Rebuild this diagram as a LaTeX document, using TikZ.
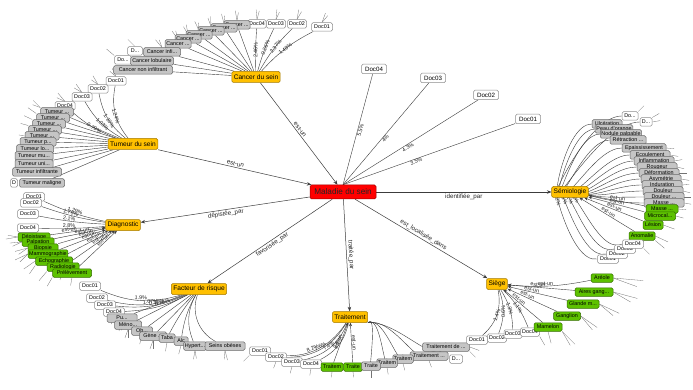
\documentclass[tikz,border=0pt]{standalone}
\usepackage{fontspec}
\setmainfont{Liberation Sans}
\usetikzlibrary{arrows.meta}
\pgfdeclarelayer{bg}
\pgfsetlayers{bg,main}
\newcommand\trc{...}
\definecolor{gold}{HTML}{FFC000}
\definecolor{goldD}{HTML}{A37A00}
\definecolor{redN}{HTML}{FF0000}
\definecolor{redD}{HTML}{9A0000}
\definecolor{grn}{HTML}{5DC100}
\definecolor{grnD}{HTML}{356F00}
\definecolor{gry}{HTML}{C5C5C5}
\definecolor{gryD}{HTML}{6A6A6A}
\definecolor{wD}{HTML}{8C8C8C}
\definecolor{edgeC}{HTML}{3C3C3C}
\tikzset{
  box/.style={rounded corners=1.5pt, inner xsep=1.2pt, inner ysep=0pt, minimum height=8.5pt,
    font=\fontsize{5.4}{6}\selectfont, line width=0.5pt, text=black},
  ynode/.style={box, fill=gold, draw=goldD, minimum height=11pt, font=\fontsize{6.6}{7}\selectfont, inner xsep=2pt},
  rnode/.style={box, fill=redN, draw=redD, minimum height=14pt, minimum width=66pt, font=\fontsize{8.2}{9}\selectfont, text=black!85},
  gnode/.style={box, fill=grn, draw=grnD},
  grnode/.style={box, fill=gry, draw=gryD},
  wnode/.style={box, fill=white, draw=wD},
  mdoc/.style={wnode, minimum width=25pt, minimum height=9.5pt, font=\fontsize{6.2}{7}\selectfont},
  mainedge/.style={draw=edgeC, line width=0.5pt, -{Stealth[length=4.5pt,width=3.5pt]}},
  fan/.style={draw=edgeC, line width=0.4pt},
  fanarr/.style={fan, -{Stealth[length=3.5pt,width=3pt]}},
  lbl/.style={font=\fontsize{5.4}{6}\selectfont, text=black!85, sloped, inner sep=0.6pt},
  mlbl/.style={font=\fontsize{6.2}{7}\selectfont, text=black!85, sloped, inner sep=1.2pt},
  tick/.style={draw=black!55, line width=0.3pt},
}
\begin{document}
\begin{tikzpicture}[x=1pt,y=-1pt]
\useasboundingbox (0,0) rectangle (693,390);
\begin{pgfonlayer}{bg}
\fill[white] (0,0) rectangle (693,390);
\end{pgfonlayer}

%==== main nodes
\node[rnode] (mal) at (343,192) {Maladie du sein};
\node[ynode] (cs) at (256,77) {Cancer du sein};
\node[ynode] (ts) at (133,144) {Tumeur du sein};
\node[ynode] (dg) at (123,225) {Diagnostic};
\node[ynode] (fr) at (199,289) {Facteur de risque};
\node[ynode] (tr) at (350,317) {Traitement};
\node[ynode] (sg) at (497,284) {Siège};
\node[ynode] (se) at (570,192) {Sémiologie};

\node[mdoc] (md4) at (374,69) {Doc04};
\node[mdoc] (md3) at (433,78) {Doc03};
\node[mdoc] (md2) at (486,95) {Doc02};
\node[mdoc] (md1) at (528,119) {Doc01};

%==== Cancer du sein cluster
\foreach \n/\px/\py/\w/\t in {csd4/257/24/18/Doc04, csd3/276/24/19/Doc03, csd2/297/24/19/Doc02, csd1/322/27/21/Doc01}
  {\node[wnode, minimum width=\w pt] (\n) at (\px,\py) {\t};}
\foreach \i/\px/\py in {1/237/25, 2/224/28, 3/211/31, 4/199/35, 5/188/39, 6/178/44}
  {\node[grnode, minimum width=26pt] (csg\i) at (\px,\py) {Cancer \trc};}
\node[wnode, minimum width=15pt] (csw1) at (135,51) {D\trc};
\node[grnode, minimum width=37pt] (csg7) at (162,52) {Cancer infi\trc};
\node[wnode, minimum width=17pt] (csw2) at (123,60) {Do\trc};
\node[grnode, minimum width=43pt] (csg8) at (152,61) {Cancer lobulaire};
\node[grnode, minimum width=59pt] (csg9) at (143,70) {Cancer non infiltrant};

%==== Tumeur du sein cluster
\foreach \n/\px/\py/\t in {tsd1/116/81/Doc01, tsd2/98/89/Doc02, tsd3/82/97/Doc03, tsd4/65/106/Doc04}
  {\node[wnode, minimum width=20pt] (\n) at (\px,\py) {\t};}
\foreach \i/\px/\py/\w/\t in {1/57/112/33/Tumeur \trc, 2/53/118/33/Tumeur \trc, 3/49/124/33/Tumeur \trc, 4/45/130/33/Tumeur \trc, 5/42/136/34/Tumeur \trc, 6/38/142/36/Tumeur p\trc, 7/35/149/37/Tumeur lo\trc, 8/34/156/38/Tumeur mu\trc, 9/34/164/38/Tumeur uni\trc, 10/37/172/49/Tumeur infiltrante}
  {\node[grnode, minimum width=\w pt] (tsg\i) at (\px,\py) {\t};}
\node[wnode, minimum width=7pt] (tsw) at (14,183) {D};
\node[grnode, minimum width=45pt] (tsg11) at (42,183) {Tumeur maligne};

%==== Diagnostic cluster
\foreach \n/\px/\py/\t in {dgd1/34/197/Doc01, dgd2/31/203/Doc02, dgd3/28/214/Doc03, dgd4/28/228/Doc04}
  {\node[wnode, minimum width=21pt] (\n) at (\px,\py) {\t};}
\foreach \i/\px/\py/\w/\t in {1/34/237/32/Dépistage, 2/38/242/32/Palpation, 3/43/248/30/Biopsie, 4/48/254/36/Mammographie, 5/54/261/37/Echographie, 6/63/267/32/Radiologie, 7/72/273/39/Prélèvement}
  {\node[gnode, minimum width=\w pt] (dgg\i) at (\px,\py) {\t};}

%==== Facteur de risque cluster
\foreach \n/\px/\py/\t in {frd1/90/286/Doc01, frd2/97/298/Doc02, frd3/105/305/Doc03, frd4/114/312/Doc04}
  {\node[wnode, minimum width=21pt] (\n) at (\px,\py) {\t};}
\foreach \i/\px/\py/\w/\t in {1/122/318/30/Pu\trc, 2/128/325/27/Méno\trc, 3/142/331/21/Ob\trc, 4/153/336/27/Gène \trc, 5/167/338/16/Taba, 6/181/341/14/Alc, 7/195/346/21/Hypert\trc, 8/225/346/40/Seins obèses}
  {\node[grnode, minimum width=\w pt] (frg\i) at (\px,\py) {\t};}

%==== Traitement cluster
\foreach \n/\px/\py/\t in {trd1/260/351/Doc01, trd2/276/357/Doc02, trd3/292/362/Doc03, trd4/311/364/Doc04}
  {\node[wnode, minimum width=21pt] (\n) at (\px,\py) {\t};}
\node[gnode, minimum width=22pt] (trg1) at (332,367) {Traitem};
\node[gnode, minimum width=19pt] (trg2) at (353,367) {Traite};
\node[grnode, minimum width=47pt] (trh5) at (446,347) {Traitement de \trc};
\node[wnode, minimum width=13pt] (trw) at (456,359) {D\trc};
\node[grnode, minimum width=38pt] (trh4) at (429,356) {Traitement \trc};
\node[grnode, minimum width=20pt] (trh3) at (403,359) {Traitem};
\node[grnode, minimum width=19pt] (trh2) at (387,363) {Traitem};
\node[grnode, minimum width=19pt] (trh1) at (371,366) {Traite};

%==== Siege cluster
\foreach \n/\px/\py/\w/\t in {sgd1/477/340/21/Doc01, sgd2/497/338/19/Doc02, sgd3/513/334/18/Doc03, sgd4/530/332/19/Doc04}
  {\node[wnode, minimum width=\w pt] (\n) at (\px,\py) {\t};}
\foreach \i/\px/\py/\w/\t in {1/602/278/22/Aréole, 2/594/292/38/Aires gang\trc, 3/583/304/32/Glande m\trc, 4/567/316/27/Ganglion, 5/548/327/28/Mamelon}
  {\node[gnode, minimum width=\w pt] (sgg\i) at (\px,\py) {\t};}

%==== Semiologie cluster
\node[wnode, minimum width=16pt] (sew1) at (630,116) {Do\trc};
\node[wnode, minimum width=12pt] (sew2) at (646,122) {D\trc};
\foreach \i/\px/\py/\w/\t in {1/607/124/30/Ulcération, 2/614/129/34/Peau d'orange, 3/621/134/38/Nodule palpable, 4/628/140/36/Rétraction \trc, 5/644/148/44/Epaississement, 6/650/155/40/Ecoulement, 7/654/161/40/Inflammation, 8/657/167/40/Rougeur, 9/659/173/40/Déformation, 10/661/179/40/Asymétrie, 11/662/185/40/Induration, 12/663/191/40/Douleur, 13/664/197/40/Douleur \trc, 14/664/203/40/Masse \trc}
  {\node[grnode, minimum width=\w pt] (seg\i) at (\px,\py) {\t};}
\foreach \i/\px/\py/\w/\t in {1/662/209/32/Masse \trc, 2/660/216/31/Microcal\trc, 3/653/225/20/Lésion, 4/642/236/26/Anomalie}
  {\node[gnode, minimum width=\w pt] (seq\i) at (\px,\py) {\t};}
\foreach \n/\px/\py/\t in {sed1/608/259/Doc01, sed2/617/254/Doc02, sed3/625/249/Doc03, sed4/633/244/Doc04}
  {\node[wnode, minimum width=21pt] (\n) at (\px,\py) {\t};}

%==================== edges
\begin{pgfonlayer}{bg}
% main edges
\draw[mainedge] (cs) -- (mal) node[mlbl, pos=.48, above]{est-un};
\draw[mainedge] (ts) -- (mal) node[mlbl, pos=.5, above]{est-un};
\draw[mainedge] (mal) -- (dg) node[mlbl, pos=.5, below]{dépistée\_par};
\draw[mainedge] (mal) -- (fr) node[mlbl, pos=.5, below]{favorisée\_par};
\draw[mainedge] (mal) -- (tr) node[mlbl, pos=.5, above]{traitée\_par};
\draw[mainedge] (mal) -- (sg) node[mlbl, pos=.5, above]{est\_localisée\_dans};
\draw[mainedge] (mal) -- (se) node[mlbl, pos=.5, below]{identifiée\_par};
\draw[fan] (mal.north) -- (md4) node[lbl, pos=.5, below]{5.5\%};
\draw[fan] (mal.north) -- (md3) node[lbl, pos=.47, below]{4\%};
\draw[fan] (mal.north) -- (md2) node[lbl, pos=.47, below]{4.3\%};
\draw[fan] (mal.north) -- (md1) node[lbl, pos=.42, below]{3.5\%};

% Cancer du sein
\foreach \i in {1,2,3,4,5,6,7,8,9} \draw[fan] (cs) -- (csg\i);
\draw[fan] (cs) to[bend left=10] node[lbl,pos=.5]{1.49\%} (csd1);
\draw[fan] (cs) to[bend left=8] node[lbl,pos=.55]{2.37\%} (csd2);
\draw[fan] (cs) to[bend left=5] node[lbl,pos=.55]{0.26\%} (csd3);
\draw[fan] (cs) to[bend left=3] node[lbl,pos=.5]{2.46\%} (csd4);

% Tumeur du sein
\foreach \i in {1,2,3,4,5,6,7,8,9,10,11} \draw[fan] (ts) -- (tsg\i);
\draw[fan] (ts) to[bend left=25] node[lbl,pos=.45]{1.24\%} (tsd1);
\draw[fan] (ts) to[bend left=20] node[lbl,pos=.45]{1.10\%} (tsd2);
\draw[fan] (ts) to[bend left=15] node[lbl,pos=.45]{1.03\%} (tsd3);
\draw[fan] (ts) to[bend left=10] node[lbl,pos=.45]{0.79\%} (tsd4);

% Diagnostic
\draw[fan] (dg) to[bend left=6] node[lbl,pos=.5,above]{1.29\%} (dgd1);
\draw[fan] (dg) to[bend left=5] node[lbl,pos=.55,above]{1.79\%} (dgd2);
\draw[fan] (dg) to[bend left=4] node[lbl,pos=.55,above]{2.1\%} (dgd3);
\draw[fan] (dg) to[bend left=3] node[lbl,pos=.55,above]{2.8\%} (dgd4);
\foreach \i/\p in {1/.35,2/.55,3/.6,4/.62,5/.65,6/.68,7/.7}
  \draw[fanarr] (dgg\i) -- (dg) node[lbl,pos=\p,above]{est-un};

% Facteur de risque
\draw[fan] (fr) to[bend left=20] node[lbl,pos=.5,above]{1.9\%} (frd1);
\draw[fan] (fr) to[bend left=18] node[lbl,pos=.45,above]{1.07\%} (frd2);
\draw[fan] (fr) to[bend left=15] node[lbl,pos=.42,above]{0.36\%} (frd3);
\draw[fan] (fr) to[bend left=12] node[lbl,pos=.4,above]{0.76\%} (frd4);
\foreach \i/\b in {1/0,2/0,3/0,4/0,5/5,6/10,7/25,8/40}
  \draw[fan] (fr) to[bend right=\b] (frg\i);

% Traitement
\draw[fan] (tr) to[bend left=35] node[lbl,pos=.5,above]{8.2\%} (trd1);
\draw[fan] (tr) to[bend left=30] node[lbl,pos=.5,above]{7.6\%} (trd2);
\draw[fan] (tr) to[bend left=28] node[lbl,pos=.5,above]{7.4\%} (trd3);
\draw[fan] (tr) to[bend left=25] node[lbl,pos=.5,above]{8.6\%} (trd4);
\draw[fanarr] (trg1) -- (tr) node[lbl,pos=.5,above]{est-un};
\draw[fanarr] (trg2) -- (tr) node[lbl,pos=.5,above]{est-un};
\foreach \n/\o in {trh1/50, trh2/35, trh3/25, trh4/15, trh5/5}
  \draw[fan] (tr.south east) to[out=\o, in=-100] (\n.north);

% Siege
\draw[fanarr] (sgg1) to[bend left=8] node[lbl,pos=.55,above]{est-un} (sg);
\foreach \i/\p in {2/.55,3/.6,4/.62,5/.65}
  \draw[fanarr] (sgg\i) -- (sg) node[lbl,pos=\p,above]{est-un};
\draw[fan] (sg) to[bend left=30] node[lbl,pos=.5]{1.4\%} (sgd1);
\draw[fan] (sg) to[bend left=20] node[lbl,pos=.5]{0.6\%} (sgd2);
\draw[fan] (sg) to[bend left=15] node[lbl,pos=.5]{1.3\%} (sgd3);
\draw[fan] (sg) to[bend left=12] node[lbl,pos=.5]{1.1\%} (sgd4);

% Semiologie
\foreach \n/\o in {sew1/-118, sew2/-112, seg1/-110, seg2/-104, seg3/-98, seg4/-92, seg5/-84, seg6/-76, seg7/-68, seg8/-60, seg9/-52, seg10/-45, seg11/-38, seg12/-31, seg13/-24, seg14/-18}
  \draw[fan] (se.150) to[out=\o, in=180] (\n.west);
\foreach \i in {1,2,3,4}
  \draw[fanarr] (seq\i) -- (se) node[lbl,pos=.5,above]{est-un};
\draw[fan] (se.205) to[out=105, in=-170] node[lbl,pos=.3]{1.2\%} (sed1.west);
\draw[fan] (se.210) to[out=95, in=-165] node[lbl,pos=.3]{3.3\%} (sed2.west);
\draw[fan] (se.215) to[out=85, in=-160] node[lbl,pos=.3]{2.1\%} (sed3.west);
\draw[fan] (se.220) to[out=75, in=-155] node[lbl,pos=.3]{3.1\%} (sed4.west);

% small leaf ticks
\foreach \n/\an/\a/\l [count=\k] in {csg1/north/-100/10, csg1/north/-80/8, csg2/north/-105/10, csg2/north/-85/8, csg3/north/-110/9, csg3/north/-92/10, csg4/north/-115/10, csg4/north/-95/8, csg5/north/-120/9, csg5/north/-100/10, csg6/north/-125/10, csg6/north/-105/9, csg7/north/-130/10, csg7/north/-110/8, csd4/north/-95/10, csd4/north/-75/9, csd3/north/-85/10, csd3/north/-65/8, csd2/north/-80/10, csd2/north/-60/9, csd1/north/-70/10, csd1/north/-50/9, csw1/north/-135/10, csw2/north west/-140/10}
  {\path (\n.\an) ++(\a:\l) coordinate (ctk\k); \draw[tick] (\n.\an) -- (ctk\k);}
\foreach \n/\an/\a/\l [count=\k] in {tsd1/north/-115/9, tsd1/north/-140/8, tsd2/north/-120/10, tsd2/north/-145/8, tsd3/north/-125/10, tsd3/north/-150/9, tsd4/north/-130/11, tsd4/north/-155/9, tsg1/north west/-135/10, tsg1/north west/-160/8, tsg2/north west/-145/10, tsg3/north west/-155/9, tsg4/north west/-165/8, tsg5/west/-170/6}
  {\path (\n.\an) ++(\a:\l) coordinate (ttk\k); \draw[tick] (\n.\an) -- (ttk\k);}
\foreach \n/\an/\a/\l [count=\k] in {dgg1/west/-170/10, dgg1/west/170/12, dgg2/west/175/12, dgg2/west/155/10, dgg3/west/165/13, dgg3/west/145/11, dgg4/west/155/14, dgg4/west/135/11, dgg5/west/145/14, dgg5/south west/125/10, dgg6/south west/130/12, dgg6/south/110/9, dgg7/south west/120/10, dgg7/south/100/8}
  {\path (\n.\an) ++(\a:\l) coordinate (dtk\k); \draw[tick] (\n.\an) -- (dtk\k);}
\foreach \n/\an/\a/\l [count=\k] in {frg1/south/110/9, frg1/south/95/8, frg2/south/110/9, frg2/south/90/8, frg3/south/105/9, frg4/south/110/9, frg4/south/90/8, frg5/south/100/9, frg6/south/105/9, frg7/south/100/9, frg7/south/80/8, frg8/south/95/9, frg8/south/75/10, frd4/south/110/8}
  {\path (\n.\an) ++(\a:\l) coordinate (ftk\k); \draw[tick] (\n.\an) -- (ftk\k);}
\foreach \n/\an/\a/\l [count=\k] in {trd1/south west/135/8, trd2/south/110/7, trd3/south/105/7, trd4/south/100/7, trg1/south/95/6, trg2/south/85/6, trh1/south/90/7, trh2/south/80/7, trh3/south/75/7, trh4/south/70/7, trh5/east/20/10, trh5/south east/45/8}
  {\path (\n.\an) ++(\a:\l) coordinate (rtk\k); \draw[tick] (\n.\an) -- (rtk\k);}
\foreach \n/\an/\a/\l [count=\k] in {sgg1/east/5/30, sgg1/east/20/25, sgg2/east/15/25, sgg2/east/30/20, sgg3/east/25/22, sgg3/east/40/18, sgg4/east/35/20, sgg4/east/50/18, sgg5/south east/45/18, sgg5/south east/60/16, sgg5/south/75/12, sgd4/south east/60/10}
  {\path (\n.\an) ++(\a:\l) coordinate (stk\k); \draw[tick] (\n.\an) -- (stk\k);}
\foreach \n/\an/\a/\l [count=\k] in {seg5/east/5/8, seg6/east/10/8, seg7/east/-10/8, seg8/east/15/7, seg9/east/0/8, seg10/east/10/8, seg11/east/-5/7, seg12/east/15/7, seg13/east/0/7, seg14/east/10/7, seq1/east/5/8, seq2/east/15/8, seq3/east/20/12, seq4/east/25/14, seq4/south east/40/12, sed4/south east/45/8, sew1/north east/-45/8, sew2/north east/-30/8, sew2/east/-10/8}
  {\path (\n.\an) ++(\a:\l) coordinate (etk\k); \draw[tick] (\n.\an) -- (etk\k);}
\end{pgfonlayer}
\end{tikzpicture}
\end{document}
